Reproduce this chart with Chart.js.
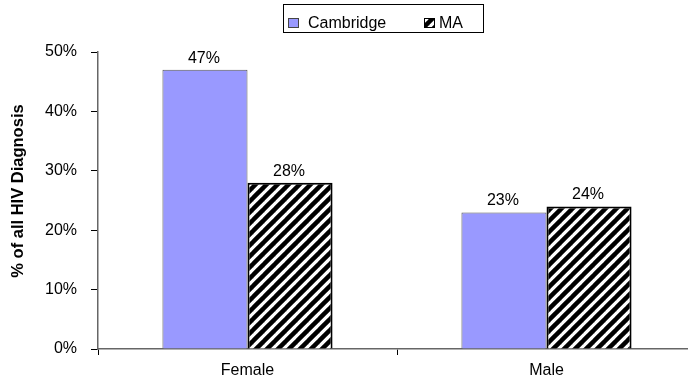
<!DOCTYPE html>
<html>
<head>
<meta charset="utf-8">
<script src="https://cdn.jsdelivr.net/npm/chart.js@4.4.1/dist/chart.umd.min.js"></script>
<style>
  html, body { margin: 0; padding: 0; overflow: hidden; background: #fff; }
  #wrap { width: 696px; height: 379px; }
</style>
</head>
<body>
<div id="wrap"><canvas id="c" width="696" height="379"></canvas></div>
<script>
// ---- data ----
const categories = ["Female", "Male"];
const seriesNames = ["Cambridge", "MA"];
const cambridgeValues = [47, 23];
const maValues = [28, 24];
const yTicks = [0, 10, 20, 30, 40, 50];
const yTitle = "% of all HIV Diagnosis";

const FONT = "Arial, 'Liberation Sans', sans-serif";
const FS = 16;

function makeStripePattern() {
  const n = 11;
  const pc = document.createElement('canvas');
  pc.width = n; pc.height = n;
  const g = pc.getContext('2d');
  g.fillStyle = '#fff';
  g.fillRect(0, 0, n, n);
  g.strokeStyle = '#000';
  g.lineWidth = 4.5;
  g.lineCap = 'square';
  for (const k of [-n, 0, n]) {
    g.beginPath();
    g.moveTo(k, n);
    g.lineTo(k + n, 0);
    g.stroke();
  }
  return g.createPattern(pc, 'repeat');
}
const stripe = makeStripePattern();

const dataLabels = {
  id: 'dataLabels',
  afterDatasetsDraw(chart) {
    const ctx = chart.ctx;
    ctx.save();
    ctx.font = FS + "px " + FONT;
    ctx.fillStyle = '#000';
    ctx.textAlign = 'center';
    ctx.textBaseline = 'alphabetic';
    chart.data.datasets.forEach((ds, i) => {
      chart.getDatasetMeta(i).data.forEach((el, j) => {
        ctx.fillText(ds.data[j] + '%', el.x - 1, el.y - 7);
      });
    });
    ctx.restore();
  }
};

const yAxisTitle = {
  id: 'yAxisTitle',
  afterDraw(chart) {
    const ctx = chart.ctx;
    ctx.save();
    ctx.translate(18, 191);
    ctx.rotate(-Math.PI / 2);
    ctx.font = "bold 16.5px " + FONT;
    ctx.fillStyle = '#000';
    ctx.textAlign = 'center';
    ctx.textBaseline = 'middle';
    ctx.fillText(yTitle, 0, 0);
    ctx.restore();
  }
};

const boxLegend = {
  id: 'boxLegend',
  afterDraw(chart) {
    const ctx = chart.ctx;
    ctx.save();
    ctx.strokeStyle = '#000';
    ctx.lineWidth = 1;
    ctx.strokeRect(283.5, 4.5, 200, 28);
    const ds = chart.data.datasets;
    const items = [
      { sx: 288, tx: 308 },
      { sx: 424, tx: 439 }
    ];
    ctx.font = FS + "px " + FONT;
    ctx.textBaseline = 'alphabetic';
    ctx.textAlign = 'left';
    items.forEach((it, i) => {
      ctx.fillStyle = ds[i].backgroundColor;
      ctx.fillRect(it.sx, 18, 11, 10);
      ctx.strokeStyle = i === 0 ? '#444' : '#000';
      ctx.lineWidth = 1;
      ctx.strokeRect(it.sx + 0.5, 18.5, 10, 9);
      ctx.fillStyle = '#000';
      ctx.fillText(ds[i].label, it.tx, 28);
    });
    ctx.restore();
  }
};

new Chart(document.getElementById('c'), {
  type: 'bar',
  data: {
    labels: categories,
    datasets: [
      {
        label: seriesNames[0],
        data: cambridgeValues,
        backgroundColor: '#9999FF',
        borderColor: '#555555',
        borderWidth: 1,
        barPercentage: 1,
        categoryPercentage: 0.569
      },
      {
        label: seriesNames[1],
        data: maValues,
        backgroundColor: stripe,
        borderColor: '#000000',
        borderWidth: 2,
        barPercentage: 1,
        categoryPercentage: 0.569
      }
    ]
  },
  options: {
    responsive: false,
    animation: false,
    events: [],
    layout: { padding: { top: 52, right: 0, left: 0, bottom: 0 } },
    plugins: {
      legend: { display: false },
      tooltip: { enabled: false },
      title: { display: false }
    },
    scales: {
      x: {
        afterFit(scale) { scale.height = 30; },
        grid: {
          offset: true,
          drawOnChartArea: false,
          drawTicks: true,
          tickLength: 6,
          color: '#000',
          tickColor: '#000'
        },
        border: { display: true, color: '#666', width: 1.5 },
        ticks: {
          color: '#000',
          font: { family: FONT, size: FS },
          padding: 6,
          maxRotation: 0
        }
      },
      y: {
        min: 0,
        max: 50,
        afterFit(scale) { scale.width = 98; },
        afterBuildTicks(scale) { scale.ticks = yTicks.map(v => ({ value: v })); },
        grid: {
          drawOnChartArea: false,
          drawTicks: true,
          tickLength: 7,
          color: '#000',
          tickColor: '#000'
        },
        border: { display: true, color: '#666', width: 1.5 },
        ticks: {
          color: '#000',
          font: { family: FONT, size: FS },
          padding: 14,
          callback: v => v + '%'
        },
        title: { display: false }
      }
    }
  },
  plugins: [dataLabels, boxLegend, yAxisTitle]
});
</script>
</body>
</html>
